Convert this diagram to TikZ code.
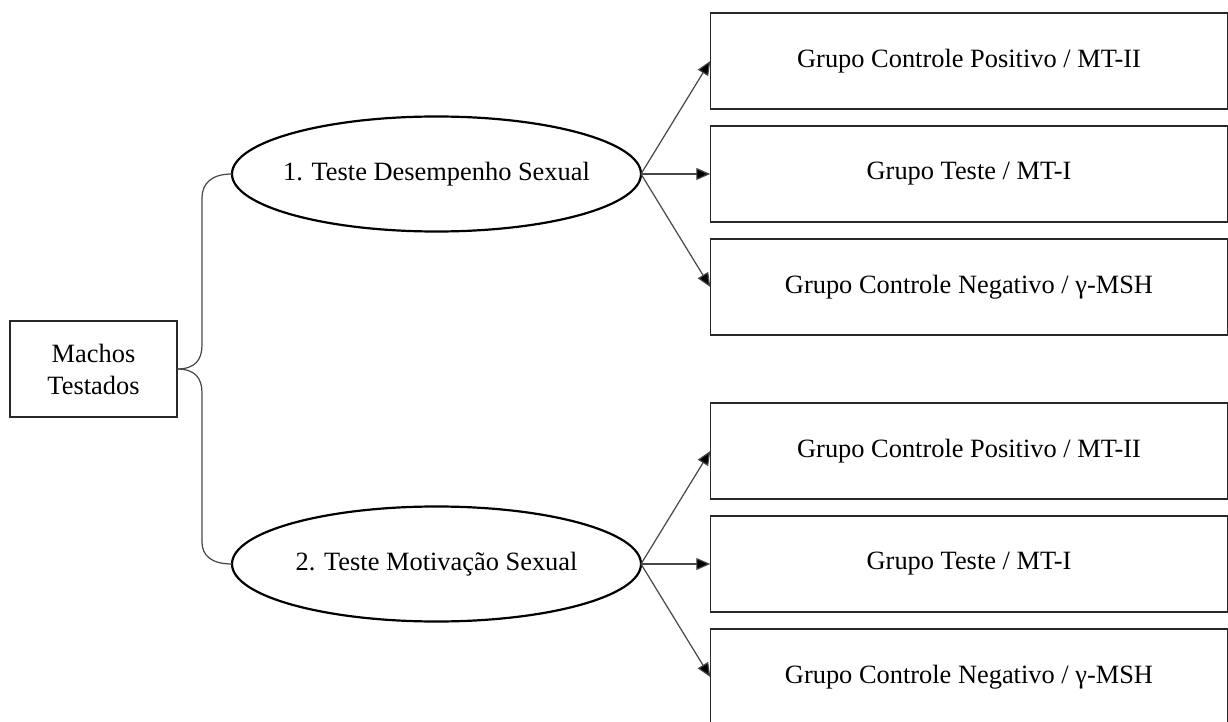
\documentclass[tikz,border=0pt]{standalone}
\usepackage{fontspec}
\setmainfont{Liberation Serif}
\usepackage{tikz}
\usetikzlibrary{arrows.meta, shapes.geometric}
\definecolor{lnblack}{RGB}{40,40,40}
\definecolor{lngray}{RGB}{70,70,70}
\tikzset{
    % root box
    mroot/.style={rectangle, draw=lnblack, line width=0.75pt, inner sep=0pt, outer sep=0pt,
                minimum width=83.5pt, minimum height=48pt, align=center,
                font=\fontsize{13.2}{16}\selectfont},
    % tests
    tellipse/.style={ellipse, draw=black, line width=1.1pt, inner sep=0pt, outer sep=0pt,
                minimum width=204.5pt, minimum height=57.5pt,
                font=\fontsize{13.2}{16}\selectfont},
    % groups
    gbox/.style={rectangle, draw=lnblack, line width=0.75pt, inner sep=0pt, outer sep=0pt,
                minimum width=258.75pt, minimum height=48pt, align=center,
                font=\fontsize{13.2}{16}\selectfont},
    garrow/.style={-{Triangle[length=7pt, width=6pt, fill=black]}, line width=0.6pt, lngray},
    bline/.style={line width=0.6pt, lngray},
}
\begin{document}
\begin{tikzpicture}[x=0.5pt, y=-0.5pt]
\path[use as bounding box, clip] (0,0) rectangle (1228,722);

\node[mroot] (machos) at (93.5,369) {Machos\\Testados};

% Tests
\node[tellipse] (desemp) at (436.5,174) {\makebox[0pt]{1. Teste Desempenho Sexual}};
\node[tellipse] (motiv) at (436.5,564) {\makebox[0pt]{2. Teste Motivação Sexual}};

% Groups - desempenho
\node[gbox] (dpos) at (969,61)  {Grupo Controle Positivo / MT-II};
\node[gbox] (dtes) at (969,174) {Grupo Teste / MT-I};
\node[gbox] (dneg) at (969,287) {Grupo Controle Negativo / γ-MSH};

% Groups - motivacao
\node[gbox] (mpos) at (969,451) {Grupo Controle Positivo / MT-II};
\node[gbox] (mtes) at (969,564) {Grupo Teste / MT-I};
\node[gbox] (mneg) at (969,677) {Grupo Controle Negativo / γ-MSH};

% Brace
\draw[bline] (machos.east) .. controls (195,369) and (202,360) .. (202,345)
    -- (202,198) .. controls (202,183) and (212,174) .. (desemp.west);
\draw[bline] (machos.east) .. controls (195,369) and (202,378) .. (202,393)
    -- (202,542) .. controls (202,556) and (212,564) .. (motiv.west);

% Arrows
\draw[garrow] (desemp.east) -- (dpos.west);
\draw[garrow] (desemp.east) -- (dtes.west);
\draw[garrow] (desemp.east) -- (dneg.west);
\draw[garrow] (motiv.east) -- (mpos.west);
\draw[garrow] (motiv.east) -- (mtes.west);
\draw[garrow] (motiv.east) -- (mneg.west);
\end{tikzpicture}
\end{document}
